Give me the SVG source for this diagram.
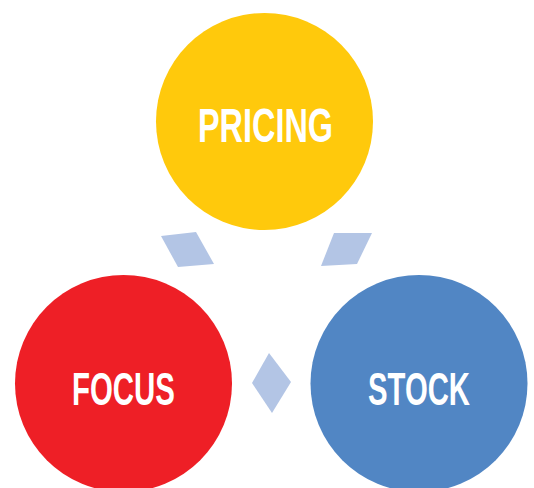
<svg xmlns="http://www.w3.org/2000/svg" width="534" height="488" viewBox="0 0 534 488">
<style>
.lbl{font-family:"Liberation Sans Narrow","Liberation Sans",Arial,sans-serif;font-weight:bold;fill:#ffffff;text-anchor:middle}
.conn{fill:#B3C5E5}
</style>
<rect width="534" height="488" fill="#ffffff"/>
<g id="connectors">
<polygon class="conn" points="161,236 196,232 214,264 178,267"/>
<polygon class="conn" points="334,233 372,233 357,264 321,266"/>
<polygon class="conn" points="269,353 291,382 272,413 252,383"/>
</g>
<g id="pricing">
<circle cx="264.5" cy="121.5" r="108.5" fill="#FFC90C"/>
<text class="lbl" x="265.5" y="142" font-size="48" textLength="135" lengthAdjust="spacingAndGlyphs">PRICING</text>
</g>
<g id="focus">
<circle cx="123.5" cy="383.5" r="108.5" fill="#EE1F26"/>
<text class="lbl" x="123.5" y="405" font-size="47" textLength="103" lengthAdjust="spacingAndGlyphs">FOCUS</text>
</g>
<g id="stock">
<circle cx="419" cy="383.5" r="108.5" fill="#5186C4"/>
<text class="lbl" x="419" y="405" font-size="47" textLength="102" lengthAdjust="spacingAndGlyphs">STOCK</text>
</g>
</svg>
